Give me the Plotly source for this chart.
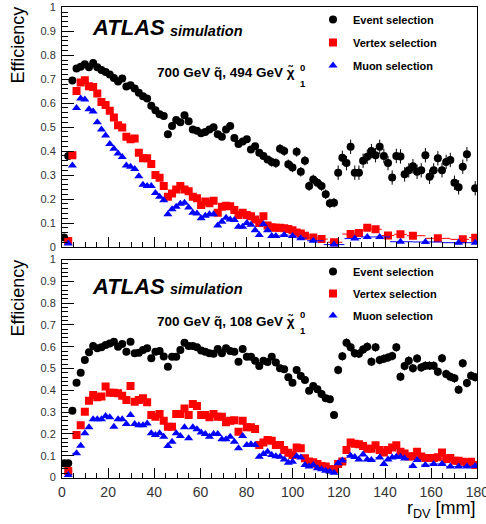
import plotly.graph_objects as go

N = None
BIN_WIDTH = 1.8
N_BINS = 100
r_dv = [round(BIN_WIDTH * (k + 0.5), 2) for k in range(N_BINS)]  # bin centres [mm]
x_ticks = [0, 20, 40, 60, 80, 100, 120, 140, 160, 180]

# ---------------- top panel: 700 GeV squark, 494 GeV neutralino ----------------
top_event = [0.04, 0.38, 0.695, 0.745, 0.752, 0.762, 0.75, 0.768, 0.75, 0.738,
             0.73, 0.72, 0.705, 0.69, 0.703, 0.67, 0.675, 0.661, 0.643, 0.629,
             0.62, 0.589, 0.571, 0.554, 0.546, 0.47, 0.505, 0.53, 0.52, 0.55,
             0.525, 0.49, 0.485, 0.475, 0.48, 0.49, 0.50, 0.47, 0.46, 0.49,
             0.505, 0.455, 0.43, 0.44, 0.45, 0.407, 0.42, 0.393, 0.38, 0.365,
             0.355, 0.35, 0.41, 0.40, 0.345, 0.332, 0.397, 0.314, 0.36, 0.254,
             0.282, 0.268, 0.254, 0.22, 0.182, 0.185, 0.31, 0.372, 0.35, 0.418,
             0.31, 0.31, 0.36, 0.376, 0.40, 0.383, 0.418, 0.38, 0.35, 0.29,
             0.38, 0.378, 0.303, 0.32, 0.337, 0.314, 0.32, 0.383, 0.293, 0.32,
             0.37, 0.32, 0.355, 0.363, 0.268, 0.249, 0.335, 0.387, N, 0.245]
top_event_err = [0.008] * 25 + [0.012] * 25 + [0.02] * 16 + [0.03] * 34

top_vertex = [N, 0.025, 0.383, 0.651, 0.686, 0.696, 0.671, 0.668, 0.64, 0.605,
              0.592, 0.568, 0.54, 0.508, 0.499, 0.46, 0.449, 0.453, 0.393, 0.37,
              0.37, 0.346, 0.30, 0.289, 0.255, 0.21, 0.223, 0.24, 0.255, 0.24,
              0.233, 0.21, 0.203, 0.175, 0.19, 0.183, 0.193, 0.143, 0.168, 0.172,
              0.17, 0.154, 0.133, 0.143, 0.133, 0.128, 0.115, 0.10, 0.128, 0.09,
              0.082, 0.08, 0.08, 0.078, 0.075, 0.07, 0.06, 0.056, 0.047, N,
              0.04, N, 0.033, N, N, 0.02, N, N, N, 0.054,
              N, 0.058, N, 0.08, N, 0.074, N, N, 0.048, N,
              N, 0.053, N, N, 0.047, N, N, N, N, N,
              0.036, N, N, N, N, N, 0.032, N, N, 0.039]

top_muon = [N, 0.015, 0.34, 0.58, 0.62, 0.615, 0.575, 0.565, 0.52, 0.49,
            0.465, 0.43, 0.41, 0.39, 0.375, 0.34, 0.335, 0.325, 0.295, 0.26,
            0.255, 0.255, 0.225, 0.21, 0.195, 0.137, 0.157, 0.168, 0.18, 0.185,
            0.165, 0.143, 0.14, 0.12, 0.13, 0.137, 0.137, 0.09, 0.105, 0.122,
            0.115, 0.113, 0.085, 0.085, 0.1, 0.093, 0.07, 0.05, 0.095, 0.07,
            0.046, 0.046, N, 0.05, N, 0.046, N, 0.037, N, N,
            0.026, N, N, N, N, 0.01, N, N, N, N,
            0.035, N, N, 0.042, N, N, 0.042, N, N, N,
            N, 0.022, N, N, N, N, N, 0.021, N, N,
            N, N, N, N, N, 0.018, N, N, N, 0.018]

# ---------------- bottom panel: 700 GeV squark, 108 GeV neutralino ----------------
bot_event = [0.065, 0.065, 0.306, 0.435, 0.48, 0.539, 0.574, 0.603, 0.593, 0.597,
             0.608, 0.615, 0.623, 0.60, 0.612, 0.577, 0.623, 0.57, 0.572, 0.585,
             0.593, 0.547, 0.577, 0.58, 0.555, 0.508, 0.554, 0.554, 0.585, 0.618,
             0.603, 0.603, 0.597, 0.582, 0.577, 0.57, 0.568, 0.59, 0.57, 0.593,
             0.58, 0.577, 0.531, 0.59, 0.554, 0.554, 0.536, 0.511, 0.536, 0.53,
             0.554, 0.527, 0.501, 0.497, 0.46, 0.435, 0.493, 0.466, 0.447, 0.398,
             0.42, 0.405, 0.383, 0.363, 0.359, 0.287, 0.493, 0.556, 0.618, 0.598,
             0.57, 0.568, 0.587, 0.60, 0.531, 0.597, 0.539, 0.545, 0.55, 0.557,
             0.597, 0.462, 0.511, 0.536, 0.501, 0.546, 0.505, 0.513, 0.513, 0.513,
             0.485, 0.547, 0.475, 0.462, 0.455, 0.403, 0.524, 0.433, 0.467, 0.46]
bot_event_err = [0.008] * 50 + [0.012] * 16 + [0.02] * 34

bot_vertex = [N, 0.03, N, 0.195, 0.24, 0.302, 0.352, 0.378, 0.368, 0.372,
              0.417, 0.389, 0.389, 0.387, 0.375, 0.356, 0.42, 0.348, 0.356, 0.363,
              0.345, 0.287, 0.279, 0.291, 0.26, 0.233, 0.233, 0.291, 0.291, 0.317,
              0.287, 0.337, 0.328, 0.287, 0.287, 0.276, 0.291, 0.279, 0.279, 0.253,
              0.26, 0.263, 0.21, 0.26, 0.23, 0.23, 0.223, 0.149, 0.16, 0.172,
              0.169, 0.149, 0.149, 0.126, 0.114, 0.103, 0.138, 0.134, 0.088, 0.073,
              0.07, 0.062, 0.053, 0.05, 0.038, 0.038, 0.062, 0.073, 0.126, 0.16,
              0.155, 0.152, 0.145, 0.132, 0.132, 0.148, 0.126, 0.115, 0.126, 0.138,
              0.148, 0.118, 0.11, 0.096, 0.098, 0.118, 0.096, 0.09, 0.09, 0.09,
              0.093, 0.115, 0.085, 0.09, 0.077, 0.077, 0.072, 0.068, 0.072, 0.057]

bot_muon = [N, 0.012, N, 0.111, 0.146, 0.203, 0.23, 0.267, 0.267, 0.267,
            0.282, 0.276, 0.233, 0.267, 0.267, 0.245, 0.287, 0.245, 0.24, 0.24,
            0.248, 0.203, 0.195, 0.203, 0.187, 0.145, 0.164, 0.203, 0.19, 0.23,
            0.18, 0.23, 0.221, 0.206, 0.2, 0.187, 0.2, 0.2, 0.175, 0.175,
            0.187, 0.164, 0.134, 0.19, 0.149, 0.153, 0.149, 0.095, 0.108, 0.118,
            0.103, 0.098, 0.095, 0.083, 0.068, 0.072, 0.098, 0.092, 0.057, 0.05,
            0.057, 0.042, 0.038, 0.031, 0.027, 0.022, 0.065, 0.078, N, 0.1,
            0.094, 0.082, 0.106, 0.083, 0.08, N, 0.092, 0.062, 0.083, 0.092,
            0.095, 0.095, 0.087, N, 0.053, 0.08, N, 0.057, N, 0.062,
            N, 0.062, N, 0.05, N, 0.05, N, 0.05, N, 0.053]

series_names = ["Event selection", "Vertex selection", "Muon selection"]
FONT = "Liberation Sans, Arial, Helvetica, sans-serif"

W, H = 486, 524
X0, X1 = 62, 477.3
TOP_Y = (7.3, 247.0)
BOT_Y = (259.5, 477.5)


def px_dom(a, b):
    return [1 - b / H, 1 - a / H]


def points(values, errs=None):
    xs, ys, es = [], [], []
    for i, v in enumerate(values):
        if v is None:
            continue
        xs.append(r_dv[i])
        ys.append(v)
        es.append(errs[i] if errs is not None else 0.004)
    half = BIN_WIDTH / 2
    plus, minus = [], []
    for j, x in enumerate(xs):
        left = (x - xs[j - 1]) / 2 if j > 0 else half
        right = (xs[j + 1] - x) / 2 if j < len(xs) - 1 else min(half, 180 - x)
        minus.append(max(half, left))
        plus.append(max(half, right))
    return xs, ys, es, plus, minus


fig = go.Figure()

style = [
    dict(symbol="circle", color="#000000", size=8),
    dict(symbol="square", color="#ff0000", size=8),
    dict(symbol="triangle-up", color="#0000ff", size=8),
]

panels = [
    ("x", "y", "legend", [(top_event, top_event_err), (top_vertex, None), (top_muon, None)]),
    ("x2", "y2", "legend2", [(bot_event, bot_event_err), (bot_vertex, None), (bot_muon, None)]),
]

for xa, ya, leg, data in panels:
    for idx, (vals, errs) in enumerate(data):
        xs, ys, es, plus, minus = points(vals, errs)
        st = style[idx]
        fig.add_trace(go.Scatter(
            x=xs, y=ys, mode="markers", name=series_names[idx],
            xaxis=xa, yaxis=ya, legend=leg, legendgroup=f"{leg}{idx}",
            marker=dict(symbol=st["symbol"], color=st["color"], size=st["size"],
                        line=dict(width=0)),
            error_y=dict(type="data", array=es, color=st["color"], thickness=1, width=0),
            error_x=dict(type="data", array=plus, arrayminus=minus, symmetric=False,
                         color=st["color"], thickness=1, width=0),
        ))

axis_common = dict(
    range=[0, 180], showline=True, mirror=True, linecolor="black", linewidth=1,
    ticks="inside", ticklen=10, tickwidth=1, tickcolor="black",
    tickvals=x_ticks, showgrid=False, zeroline=False, automargin=False,
    minor=dict(ticks="inside", ticklen=5, dtick=5, tick0=0, tickcolor="black", showgrid=False),
    domain=[X0 / W, X1 / W],
)
yaxis_common = dict(
    range=[0, 1], showline=True, mirror=True, linecolor="black", linewidth=1,
    ticks="inside", ticklen=12, tickwidth=1, tickcolor="black",
    dtick=0.1, tick0=0, showgrid=False, zeroline=False, automargin=False,
    tickfont=dict(family=FONT, size=11, color="#333333"),
    minor=dict(ticks="inside", ticklen=6, dtick=0.02, tick0=0, tickcolor="black", showgrid=False),
    ticklabelstandoff=3,
)

fig.update_layout(
    width=W, height=H, margin=dict(l=0, r=0, t=0, b=0, autoexpand=False),
    paper_bgcolor="white", plot_bgcolor="white",
    font=dict(family=FONT, color="black"),
    xaxis=dict(axis_common, anchor="y", showticklabels=False),
    yaxis=dict(yaxis_common, anchor="x", domain=px_dom(*TOP_Y)),
    xaxis2=dict(axis_common, anchor="y2", showticklabels=True, ticklabeloverflow="allow",
                tickfont=dict(family=FONT, size=14, color="#333333"), ticklabelstandoff=2),
    yaxis2=dict(yaxis_common, anchor="x2", domain=px_dom(*BOT_Y)),
    legend=dict(x=313 / W, y=1 - 5 / H, xanchor="left", yanchor="top",
                bgcolor="rgba(0,0,0,0)", borderwidth=0, tracegroupgap=4,
                font=dict(family=FONT, size=11, color="black", weight="bold")),
    legend2=dict(x=313 / W, y=1 - 257 / H, xanchor="left", yanchor="top",
                 bgcolor="rgba(0,0,0,0)", borderwidth=0, tracegroupgap=3,
                 font=dict(family=FONT, size=11, color="black", weight="bold")),
    showlegend=True,
)

ann = []


def A(text, x, y, size, xanchor="left", yanchor="middle", angle=0, weight="normal", style_="normal"):
    ann.append(dict(text=text, x=x / W, y=1 - y / H, xref="paper", yref="paper",
                    xanchor=xanchor, yanchor=yanchor, showarrow=False, textangle=angle,
                    font=dict(family=FONT, size=size, color="black", weight=weight, style=style_)))


# top panel texts
A("ATLAS", 90, 27, 22, weight="bold", style_="italic")
A("simulation", 168, 31, 14.5, weight="bold", style_="italic")
A("700 GeV q\u0303, 494 GeV \u03c7\u0303", 155, 72, 13.5, weight="bold")
A("0", 298, 67, 9.5, weight="bold")
A("1", 298, 84, 9.5, weight="bold")
A("Efficiency", 17.5, 45, 18, xanchor="center", angle=-90)

# bottom panel texts
A("ATLAS", 90, 286, 22, weight="bold", style_="italic")
A("simulation", 168, 289, 14.5, weight="bold", style_="italic")
A("700 GeV q\u0303, 108 GeV \u03c7\u0303", 155, 321, 13.5, weight="bold")
A("0", 298, 314, 9.5, weight="bold")
A("1", 298, 330, 9.5, weight="bold")
A("Efficiency", 17.5, 298, 18, xanchor="center", angle=-90)

A("r<sub>DV</sub> [mm]", 478, 509, 18, xanchor="right")

fig.update_layout(annotations=ann)
fig.write_html("out.html")
